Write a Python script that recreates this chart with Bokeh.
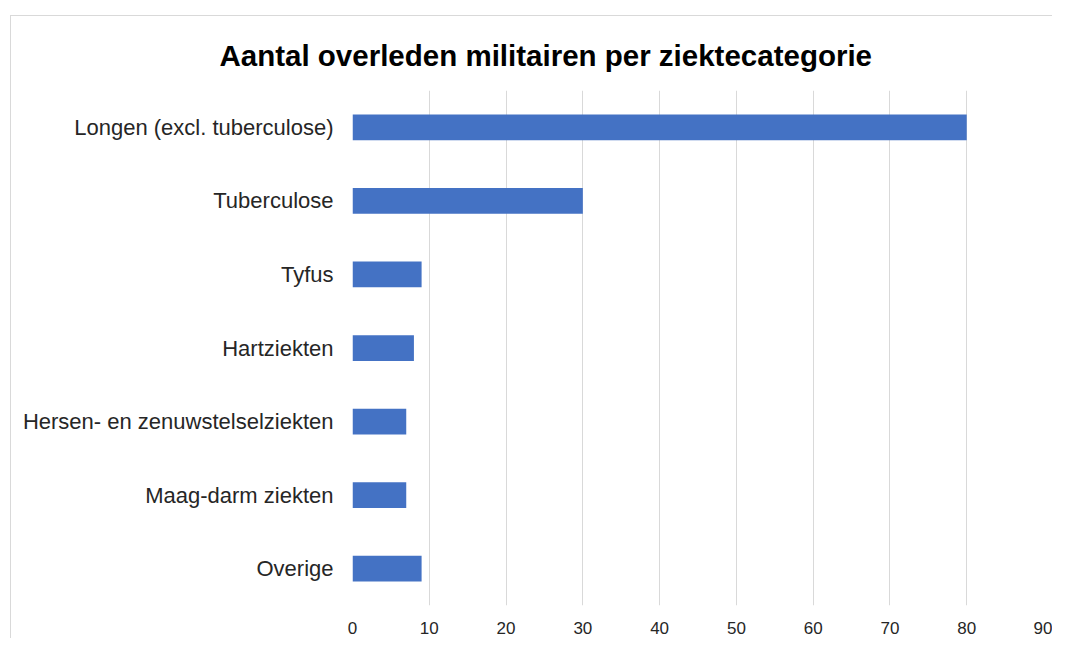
from bokeh.plotting import figure
from bokeh.models import FactorRange, Range1d, FixedTicker, Title, ColumnDataSource
from bokeh.embed import file_html
from bokeh.resources import INLINE

categories = ["Longen (excl. tuberculose)", "Tuberculose", "Tyfus", "Hartziekten",
              "Hersen- en zenuwstelselziekten", "Maag-darm ziekten", "Overige"]
deaths = [80, 30, 9, 8, 7, 7, 9]
x_ticks = [0, 10, 20, 30, 40, 50, 60, 70, 80, 90]
title_text = "Aantal overleden militairen per ziektecategorie"

source = ColumnDataSource(data=dict(cat=categories, val=deaths))

p = figure(width=1042, height=623, output_backend="svg", toolbar_location=None,
           y_range=FactorRange(*list(reversed(categories))),
           x_range=Range1d(0, 90),
           min_border_left=341, min_border_right=10, min_border_top=74, min_border_bottom=34)
p.styles = {"margin-left": "10px", "margin-top": "15px",
            "border-left": "1px solid #d9d9d9", "border-top": "1px solid #d9d9d9"}

p.hbar(y="cat", right="val", left=0, height=0.35, source=source,
       fill_color="#4472C4", line_color=None)

p.title = Title(text=title_text, align="left", offset=-133,
                text_font="Liberation Sans", text_font_size="29.5px",
                text_font_style="bold", text_color="#000000", standoff=38)

p.outline_line_color = None
p.background_fill_color = "white"
p.border_fill_color = "white"

p.xgrid.grid_line_color = "#d9d9d9"
p.xgrid.ticker = FixedTicker(ticks=x_ticks)
p.ygrid.grid_line_color = None

p.xaxis.ticker = FixedTicker(ticks=x_ticks)
p.xaxis.axis_line_color = None
p.xaxis.major_tick_line_color = None
p.xaxis.minor_tick_line_color = None
p.xaxis.major_tick_out = 0
p.xaxis.major_label_standoff = 16
p.xaxis.major_label_text_font = "Liberation Sans"
p.xaxis.major_label_text_font_size = "17px"
p.xaxis.major_label_text_color = "#262626"

p.yaxis.axis_line_color = None
p.yaxis.major_tick_line_color = None
p.yaxis.major_tick_out = 0
p.yaxis.major_label_standoff = 19
p.yaxis.major_label_text_font = "Liberation Sans"
p.yaxis.major_label_text_font_size = "22px"
p.yaxis.major_label_text_color = "#262626"

open("out.html", "w").write(file_html(p, INLINE))
